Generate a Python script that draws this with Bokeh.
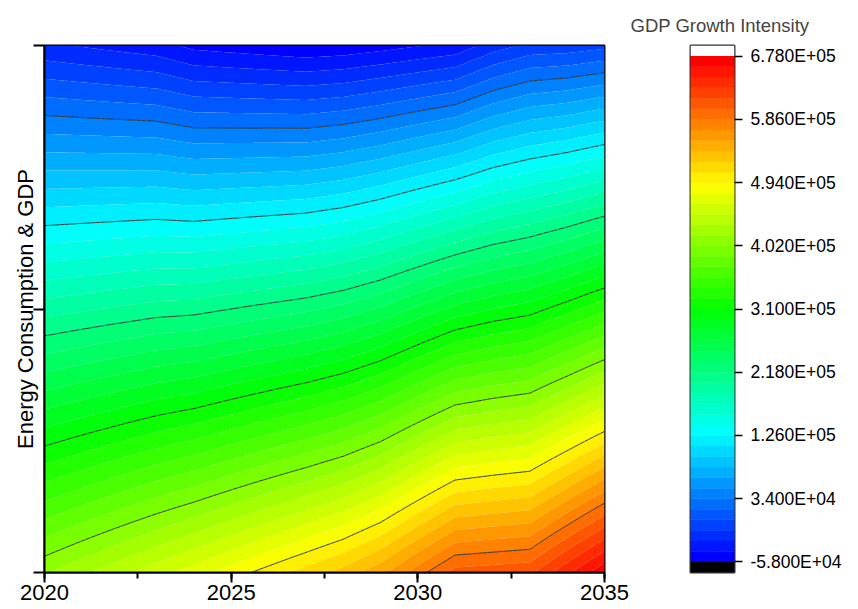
import numpy as np
from bokeh.plotting import figure
from bokeh.layouts import row
from bokeh.models import Range1d, SingleIntervalTicker, FixedTicker
from bokeh.embed import file_html
from bokeh.resources import INLINE

# ---- data ----
years = [2020, 2023, 2024, 2027, 2028, 2029, 2031, 2032, 2033, 2034, 2035]
# value at the top edge of the y range (row "1") and at the bottom edge (row "0")
gdp_top = [-24400, -37000, -46900, -55800, -53700, -49000, -38600, -20200, -7800, -6100, -900]
gdp_bottom = [415500, 457000, 471100, 515700, 530900, 551000, 607400, 610300, 613400, 644400, 675000]
y_rows = [0.0, 1.0]
y_ticks = [0.0, 0.5, 1.0]
x_ticks = [2020, 2025, 2030, 2035]
cbar_ticks = [-58000, 34000, 126000, 218000, 310000, 402000, 494000, 586000, 678000]
line_levels = [34000, 126000, 218000, 310000, 402000, 494000, 586000]
n_bands = 48

FONT = "Liberation Sans"

# ---- contour levels and palette ----
levels = np.linspace(cbar_ticks[0], cbar_ticks[-1], n_bands + 1)
step = levels[1] - levels[0]
stops = [(0, 0, 255), (0, 255, 255), (0, 255, 0), (255, 255, 0), (255, 0, 0)]


def cmap(f):
    s = f * (len(stops) - 1)
    i = min(int(s), len(stops) - 2)
    t = s - i
    c = [int(round(stops[i][k] + (stops[i + 1][k] - stops[i][k]) * t)) for k in range(3)]
    return "#%02x%02x%02x" % tuple(c)


palette = [cmap(i / (n_bands - 1)) for i in range(n_bands)]

# ---- grid (linear in x between years, linear in y between rows) ----
xg = np.linspace(years[0], years[-1], 451)
yg = np.linspace(y_rows[0], y_rows[1], 61)
X, Y = np.meshgrid(xg, yg)
zb = np.interp(xg, years, gdp_bottom)
zt = np.interp(xg, years, gdp_top)
t = (yg - y_rows[0]) / (y_rows[1] - y_rows[0])
Z = (1 - t)[:, None] * zb[None, :] + t[:, None] * zt[None, :]

# ---- main figure ----
p = figure(width=629, height=609, x_range=Range1d(years[0], years[-1]),
           y_range=Range1d(y_rows[0], y_rows[1]),
           output_backend="svg", toolbar_location=None,
           min_border_left=44, min_border_top=45, min_border_right=25, min_border_bottom=37)
rfill = p.contour(X, Y, Z, levels=list(levels), fill_color=palette, line_color=None)
fg = rfill.fill_renderer.glyph
fg.line_color = fg.fill_color
fg.line_width = 0.7
p.contour(X, Y, Z, levels=line_levels, fill_color=None, line_color="#333333", line_width=1)

p.grid.visible = False
p.outline_line_color = "black"
p.outline_line_width = 2

p.xaxis.ticker = SingleIntervalTicker(interval=5, num_minor_ticks=2)
p.xaxis.major_tick_out = 10
p.xaxis.major_tick_in = 0
p.xaxis.minor_tick_out = 6
p.xaxis.minor_tick_in = 0
p.xaxis.axis_line_width = 2
p.xaxis.major_tick_line_width = 2
p.xaxis.minor_tick_line_width = 2
p.xaxis.major_label_text_font = FONT
p.xaxis.major_label_text_font_size = "22px"
p.xaxis.major_label_text_color = "black"
p.xaxis.major_label_standoff = 2

p.yaxis.ticker = FixedTicker(ticks=y_ticks)
p.yaxis.major_label_overrides = {v: "" for v in y_ticks}
p.yaxis.major_label_standoff = 0
p.yaxis.major_tick_out = 11
p.yaxis.major_tick_in = 0
p.yaxis.minor_tick_line_color = None
p.yaxis.axis_line_width = 2
p.yaxis.major_tick_line_width = 2
p.yaxis.axis_label = "Energy Consumption & GDP"
p.yaxis.axis_label_text_font = FONT
p.yaxis.axis_label_text_font_size = "22px"
p.yaxis.axis_label_text_font_style = "normal"
p.yaxis.axis_label_text_color = "black"
p.yaxis.axis_label_standoff = -4

# ---- colour bar figure ----
p2 = figure(width=229, height=609, x_range=Range1d(0, 1),
            y_range=Range1d(levels[0] - step, levels[-1] + step),
            y_axis_location="right", x_axis_location=None,
            output_backend="svg", toolbar_location=None,
            min_border_left=61, min_border_top=45, min_border_right=124, min_border_bottom=36)
p2.quad(left=0, right=1, bottom=levels[:-1], top=levels[1:], fill_color=palette, line_color=palette, line_width=0.5)
p2.quad(left=0, right=1, bottom=levels[0] - step, top=levels[0], fill_color="black", line_color=None)
p2.quad(left=0, right=1, bottom=levels[-1], top=levels[-1] + step, fill_color="white", line_color=None)
p2.grid.visible = False
p2.outline_line_color = "#333333"
p2.outline_line_width = 2
p2.yaxis.ticker = FixedTicker(ticks=cbar_ticks)
p2.yaxis.major_label_overrides = {v: "%.3E" % v for v in cbar_ticks}
p2.yaxis.axis_line_color = None
p2.yaxis.minor_tick_line_color = None
p2.yaxis.major_tick_out = 8
p2.yaxis.major_tick_in = 0
p2.yaxis.major_tick_line_width = 1.5
p2.yaxis.major_label_standoff = 8
p2.yaxis.major_label_text_font = FONT
p2.yaxis.major_label_text_font_size = "17.5px"
p2.yaxis.major_label_text_color = "black"
p2.title.text = "GDP Growth Intensity"
p2.title.text_font = FONT
p2.title.text_font_size = "18.5px"
p2.title.text_font_style = "normal"
p2.title.align = "left"
p2.title.offset = -60
p2.title.standoff = 20

layout = row(p, p2)
open("out.html", "w").write(file_html(layout, INLINE))
